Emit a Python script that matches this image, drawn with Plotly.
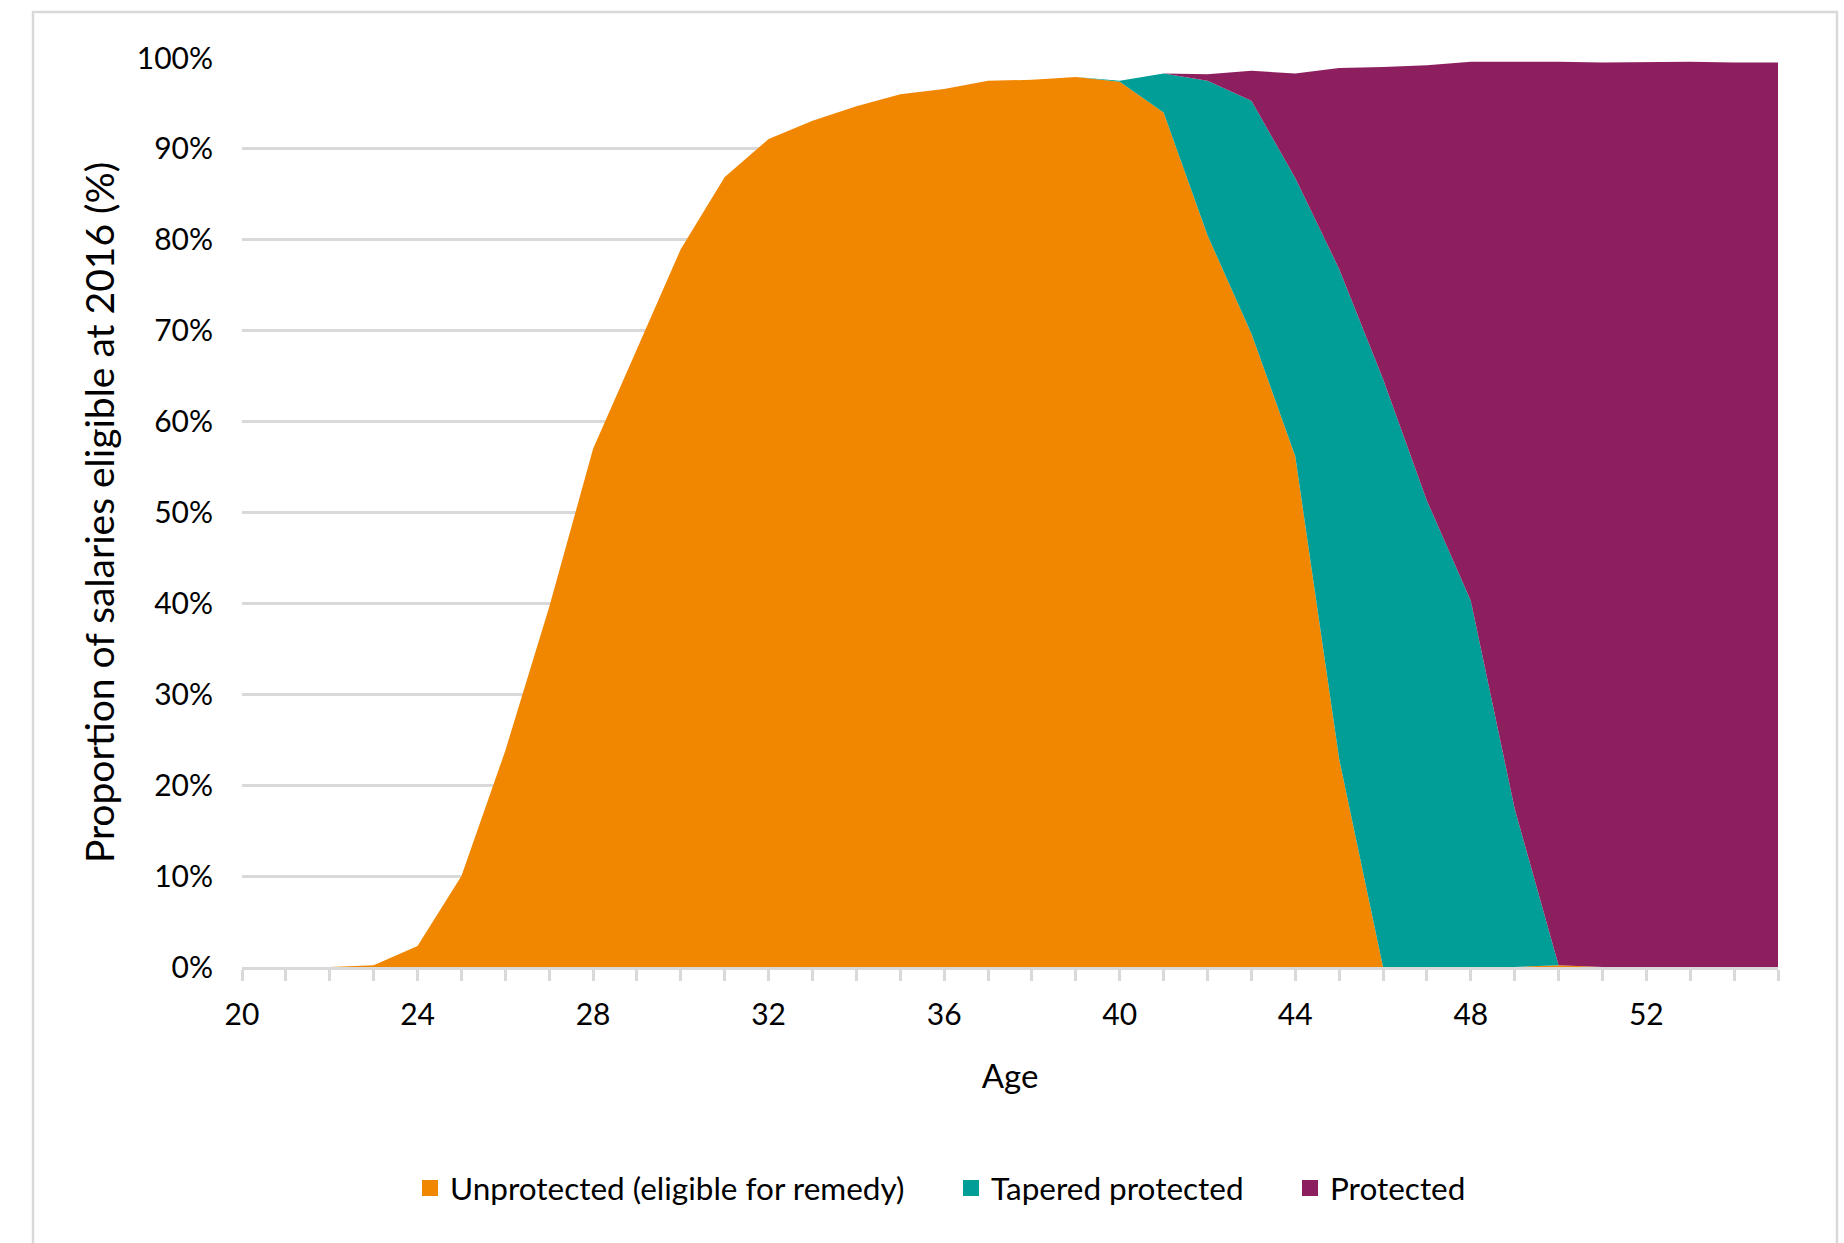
import plotly.graph_objects as go

# Age of member at 2016
ages = list(range(20, 56))

# Share of salaries (%) in each protection category, by age
unprotected = [0, 0, 0, 0.2, 2.3, 10.0, 23.8, 39.6, 57.0, 68.0,
               79.0, 86.9, 91.1, 93.1, 94.7, 96.0, 96.6, 97.5, 97.6, 97.9,
               97.4, 94.0, 80.5, 69.7, 56.2, 22.9, 0, 0, 0, 0,
               0.2, 0, 0, 0, 0, 0]
tapered = [0, 0, 0, 0, 0, 0, 0, 0, 0, 0,
           0, 0, 0, 0, 0, 0, 0, 0, 0, 0,
           0.1, 4.3, 17.0, 25.6, 30.6, 53.9, 64.7, 51.3, 40.3, 17.4,
           0, 0, 0, 0, 0, 0]
protected = [0, 0, 0, 0, 0, 0, 0, 0, 0, 0,
             0, 0, 0, 0, 0, 0, 0, 0, 0, 0,
             0, 0, 0.7, 3.3, 11.5, 22.1, 34.3, 47.9, 59.3, 82.2,
             99.4, 99.5, 99.55, 99.6, 99.5, 99.5]

series_names = ["Unprotected (eligible for remedy)", "Tapered protected", "Protected"]
series_values = [unprotected, tapered, protected]
colors = ["#F18700", "#009E96", "#8E1F5F"]

y_ticks = list(range(0, 101, 10))
y_tick_text = [f"{v}%" for v in y_ticks]
x_ticks = list(range(20, 56, 4))

FONT = "Lato, 'Open Sans', sans-serif"
GRID = "#D9D9D9"

W, H = 1844, 1243
L, R, T, B = 242, 66, 58, 276
pw, ph = W - L - R, H - T - B


def px_x(px):
    return (px - L) / pw


def px_y(py):
    return (H - B - py) / ph


fig = go.Figure()

legend_ids = ["legend", "legend2", "legend3"]
for name, vals, col, lg in zip(series_names, series_values, colors, legend_ids):
    fig.add_trace(go.Scatter(
        x=ages, y=vals, name=name, mode="lines",
        stackgroup="one", line=dict(width=0, color=col),
        fillcolor=col, showlegend=False,
        hovertemplate="Age %{x}: %{y:.1f}%<extra>" + name + "</extra>",
    ))
    # square legend key
    fig.add_trace(go.Scatter(
        x=[None], y=[None], name=name, mode="markers",
        marker=dict(symbol="square", size=16, color=col),
        legend=lg, showlegend=True,
    ))

legend_common = dict(
    orientation="h", yanchor="middle", xanchor="left",
    font=dict(family=FONT, size=31.5, color="#000000"),
    bgcolor="rgba(0,0,0,0)", borderwidth=0, itemsizing="trace",
)

fig.update_layout(
    width=W, height=H,
    margin=dict(l=L, r=R, t=T, b=B),
    paper_bgcolor="white", plot_bgcolor="white",
    font=dict(family=FONT, size=30, color="#000000"),
    legend=dict(x=px_x(410), y=px_y(1188), **legend_common),
    legend2=dict(x=px_x(951), y=px_y(1188), **legend_common),
    legend3=dict(x=px_x(1290), y=px_y(1188), **legend_common),
    xaxis=dict(
        range=[20, 55], tickmode="array", tickvals=x_ticks,
        ticks="outside", ticklen=11, tickwidth=2.5, tickcolor=GRID,
        minor=dict(dtick=1, tick0=20, ticks="outside", ticklen=11,
                   tickwidth=2.5, tickcolor=GRID, showgrid=False),
        showline=True, linecolor=GRID, linewidth=2.5,
        showgrid=False, zeroline=False,
        tickfont=dict(family=FONT, size=30, color="#000000"),
        ticklabelstandoff=8,
        title=dict(text="Age", font=dict(family=FONT, size=33, color="#000000"),
                   standoff=36),
    ),
    yaxis=dict(
        range=[0, 100], tickmode="array", tickvals=y_ticks, ticktext=y_tick_text,
        showgrid=True, gridcolor=GRID, gridwidth=2.5,
        showline=False, zeroline=False, ticks="",
        tickfont=dict(family=FONT, size=30, color="#000000"),
        ticklabelstandoff=28,
        title=dict(text="Proportion of salaries eligible at 2016 (%)",
                   font=dict(family=FONT, size=39, color="#000000"),
                   standoff=10),
    ),
    shapes=[dict(
        type="rect", xref="paper", yref="paper",
        x0=px_x(33), x1=px_x(1837), y0=px_y(1260), y1=px_y(12),
        line=dict(color=GRID, width=2.5), fillcolor="rgba(0,0,0,0)", layer="below",
    )],
    hovermode="x unified",
)

fig.write_html("out.html")
